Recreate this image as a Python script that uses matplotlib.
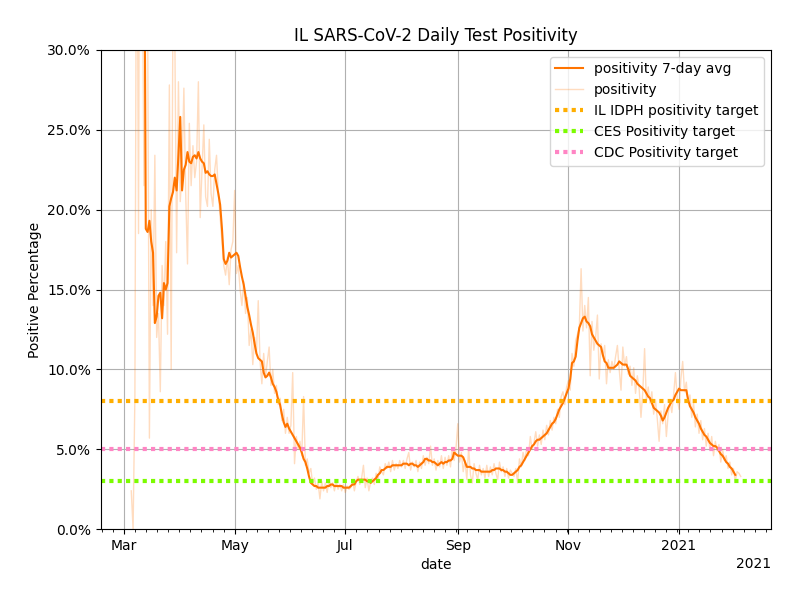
import numpy as np
import pandas as pd
import matplotlib
matplotlib.use("Agg")
import matplotlib.pyplot as plt
import matplotlib.dates as mdates
from matplotlib.ticker import PercentFormatter, AutoMinorLocator

# daily positivity (%), starting 2020-03-05
raw_start = "2020-03-05"
raw_mar = [2.4, 0.0, 8.4, 45.0, 18.5, 60.0, 38.0, 21.5, 40.0, 33.0, 5.7, 20.0, 14.0, 23.4,
           12.0, 13.5, 8.6, 16.5, 14.0, 18.0, 12.2, 27.8, 10.0, 33.0, 31.0, 17.3, 28.0]
raw_apr = [20.5, 22.5, 27.6, 21.0, 16.6, 25.4, 21.5, 24.0, 22.0, 23.0, 28.0, 19.5, 22.5, 25.3,
           20.8, 20.2, 24.4, 21.0, 20.2, 22.5, 23.4, 21.0, 19.5, 18.0, 16.5, 15.9, 17.0, 15.3,
           17.5, 18.0]
raw_may = [21.2, 16.0, 16.5, 15.0, 14.0, 15.5, 13.5, 14.5, 11.5, 12.5, 10.3, 12.0, 11.0, 14.3,
           10.5, 9.1, 11.0, 9.5, 10.5, 11.4, 9.0, 10.0, 8.5, 9.0, 7.8, 8.2, 6.8, 7.5, 6.0, 7.0, 6.0]
raw_jun = [6.5, 9.8, 4.1, 5.8, 5.0, 5.5, 4.6, 8.3, 4.0, 4.4, 3.5, 3.8, 2.8, 3.2, 2.5, 2.9,
           1.9, 3.0, 2.4, 2.9, 2.3, 3.1, 2.6, 2.9, 2.4, 3.0, 2.5, 2.8, 2.4, 2.8]
raw_jul = [2.3, 2.7, 2.5, 2.6, 3.1, 2.4, 3.0, 3.3, 2.8, 3.2, 4.0, 2.6, 3.2, 2.4, 3.0, 3.2,
           2.8, 3.5, 3.1, 3.9, 3.6, 3.4, 4.1, 3.8, 4.2, 3.6, 4.3, 3.7, 4.1, 3.8, 4.3]
raw_aug = [3.9, 4.3, 3.8, 4.4, 4.8, 3.7, 4.2, 3.9, 4.3, 3.6, 4.2, 3.8, 4.6, 4.0, 4.5, 4.1,
           5.2, 4.0, 4.4, 3.7, 4.3, 3.9, 4.6, 3.8, 4.5, 4.0, 4.6, 3.9, 5.1, 4.3, 5.0]
raw_sep = [6.6, 4.2, 4.8, 3.6, 4.3, 3.1, 5.1, 3.4, 2.9, 4.1, 3.5, 3.1, 4.0, 3.4, 3.8, 3.2,
           4.0, 3.3, 3.9, 3.4, 4.1, 3.5, 3.1, 4.2, 3.6, 3.9, 3.3, 3.8, 3.2, 3.7]
raw_oct = [3.5, 3.3, 3.8, 2.9, 4.4, 3.9, 4.8, 4.3, 5.1, 4.6, 5.8, 5.0, 5.4, 6.1, 5.2, 5.9,
           5.3, 6.2, 5.6, 6.5, 5.9, 6.8, 6.2, 7.0, 6.6, 7.5, 7.0, 8.3, 8.6, 7.8, 8.9]
raw_nov = [9.3, 8.7, 11.0, 10.2, 11.8, 12.2, 12.6, 16.3, 12.4, 14.0, 12.6, 14.5, 9.6, 13.0,
           11.2, 12.0, 13.4, 9.4, 11.6, 10.8, 11.5, 9.1, 10.6, 9.8, 10.5, 10.0, 10.8, 11.5,
           10.0, 8.7]
raw_dec = [11.4, 10.2, 10.8, 9.7, 10.2, 9.0, 10.1, 8.5, 9.6, 8.8, 7.0, 8.6, 11.3, 8.0, 8.9,
           7.9, 8.6, 7.2, 8.1, 6.9, 5.5, 7.4, 6.6, 7.8, 5.8, 7.2, 8.0, 7.3, 8.4, 9.8, 8.2]
raw_jan = [7.5, 9.4, 10.5, 8.6, 9.2, 7.9, 8.4, 7.0, 7.9, 6.4, 7.2, 6.0, 6.8, 5.6, 6.3, 5.2,
           6.0, 5.0, 5.8, 4.6, 5.5, 4.9, 5.3, 4.2, 5.0, 4.3, 4.6, 3.8, 4.2, 3.4, 3.8]
raw_feb = [3.0, 3.6, 3.5, 3.3]

# 7-day average (%), starting 2020-03-11
avg_start = "2020-03-11"
avg_mar = [58.0, 44.0, 18.8, 18.6, 19.3, 18.0, 17.3, 12.9, 13.3, 14.6, 14.8, 13.2, 15.4, 15.0,
           15.4, 20.2, 20.7, 21.1, 22.0, 21.2, 23.4]
avg_apr = [25.8, 21.2, 22.5, 22.8, 23.6, 23.0, 22.9, 23.3, 23.4, 23.2, 23.6, 23.2, 23.0, 22.9,
           22.3, 22.4, 22.2, 22.1, 22.1, 22.2, 21.6, 21.0, 20.3, 18.8, 16.9, 16.6, 16.8, 17.3,
           17.0, 17.1]
avg_may = [17.2, 17.3, 17.1, 16.4, 15.8, 15.3, 14.6, 13.9, 13.4, 12.8, 12.3, 11.6, 11.0, 10.7,
           10.6, 10.5, 9.8, 9.5, 9.6, 9.8, 9.5, 9.1, 8.9, 8.6, 8.1, 7.8, 7.2, 6.7, 6.4, 6.6, 6.3]
avg_jun = [6.1, 5.9, 5.7, 5.5, 5.3, 5.1, 4.8, 4.4, 4.2, 3.8, 3.3, 2.9, 2.8, 2.7, 2.7, 2.6,
           2.6, 2.6, 2.6, 2.6, 2.7, 2.7, 2.8, 2.8, 2.7, 2.7, 2.7, 2.7, 2.7, 2.6]
avg_jul = [2.6, 2.6, 2.6, 2.7, 2.8, 2.8, 3.0, 3.1, 3.1, 3.1, 3.1, 3.1, 3.0, 3.0, 2.9, 3.0,
           3.1, 3.2, 3.4, 3.5, 3.7, 3.7, 3.8, 3.9, 3.9, 3.9, 4.0, 4.0, 4.0, 4.0, 4.0]
avg_aug = [4.0, 4.1, 4.1, 4.1, 4.0, 4.1, 4.1, 4.0, 4.0, 3.9, 4.0, 4.1, 4.2, 4.4, 4.4, 4.3,
           4.3, 4.2, 4.2, 4.1, 4.0, 4.1, 4.2, 4.1, 4.2, 4.2, 4.3, 4.3, 4.4, 4.8, 4.7]
avg_sep = [4.6, 4.6, 4.6, 4.5, 4.2, 3.9, 3.9, 3.9, 3.8, 3.8, 3.7, 3.7, 3.7, 3.6, 3.6, 3.6,
           3.6, 3.6, 3.6, 3.7, 3.7, 3.8, 3.8, 3.8, 3.7, 3.7, 3.6, 3.6, 3.5, 3.4]
avg_oct = [3.4, 3.5, 3.6, 3.7, 3.9, 4.0, 4.2, 4.4, 4.6, 4.8, 5.0, 5.2, 5.3, 5.5, 5.6, 5.6,
           5.7, 5.8, 5.9, 6.0, 6.2, 6.4, 6.6, 6.7, 6.9, 7.2, 7.5, 7.7, 7.9, 8.2, 8.5]
avg_nov = [8.8, 9.4, 10.4, 10.5, 10.8, 11.8, 12.6, 12.9, 13.2, 13.3, 13.0, 12.9, 12.7, 12.2,
           12.0, 11.8, 11.6, 11.5, 11.4, 10.9, 10.5, 10.4, 10.1, 10.1, 10.1, 10.1, 10.2, 10.3,
           10.5, 10.4]
avg_dec = [10.3, 10.3, 10.3, 10.0, 9.6, 9.5, 9.4, 9.3, 9.1, 9.0, 8.9, 8.8, 8.7, 8.5, 8.3,
           8.2, 7.9, 7.6, 7.5, 7.4, 7.3, 7.1, 6.8, 7.0, 7.3, 7.6, 7.8, 8.0, 8.1, 8.4, 8.6]
avg_jan = [8.8, 8.7, 8.7, 8.7, 8.7, 8.1, 7.7, 7.5, 7.3, 7.0, 6.8, 6.6, 6.3, 6.1, 5.9, 5.8,
           5.6, 5.4, 5.3, 5.2, 5.2, 5.1, 4.9, 4.7, 4.6, 4.4, 4.2, 4.1, 3.9, 3.8, 3.6]
avg_feb = [3.4]

# positivity targets (%)
idph_target = 8.0
ces_target = 3.0
cdc_target = 5.0

raw = (raw_mar + raw_apr + raw_may + raw_jun + raw_jul + raw_aug + raw_sep + raw_oct
       + raw_nov + raw_dec + raw_jan + raw_feb)
avg = (avg_mar + avg_apr + avg_may + avg_jun + avg_jul + avg_aug + avg_sep + avg_oct
       + avg_nov + avg_dec + avg_jan + avg_feb)
raw_dates = pd.date_range(raw_start, periods=len(raw), freq="D")
avg_dates = pd.date_range(avg_start, periods=len(avg), freq="D")

fig, ax = plt.subplots(figsize=(8, 6), dpi=100)
fig.subplots_adjust(left=0.126, right=0.964, top=0.917, bottom=0.118)

line_color = "#ff7400"
ax.plot(avg_dates, avg, color=line_color, lw=1.5, label="positivity 7-day avg")
ax.plot(raw_dates, raw, color=line_color, lw=1.0, alpha=0.25, label="positivity")
ax.axhline(idph_target, color="#ffae00", lw=3, ls=(0, (1, 1)), label="IL IDPH positivity target")
ax.axhline(ces_target, color="#7cfc00", lw=3, ls=(0, (1, 1)), label="CES Positivity target")
ax.axhline(cdc_target, color="#ff85c4", lw=3, ls=(0, (1, 1)), label="CDC Positivity target")

ax.set_ylim(0, 30)
ax.yaxis.set_major_formatter(PercentFormatter(100, decimals=1))

locator = mdates.MonthLocator(bymonth=[1, 3, 5, 7, 9, 11])
ax.xaxis.set_major_locator(locator)
ax.xaxis.set_major_formatter(mdates.ConciseDateFormatter(locator))
ax.xaxis.set_minor_locator(AutoMinorLocator(10))

# year offset label at the right end of the date axis
ax.text(1.0, -0.058, raw_dates[-1].strftime("%Y"), transform=ax.transAxes,
        ha="right", va="top", fontsize=10)

ax.grid(True)
ax.set_title("IL SARS-CoV-2 Daily Test Positivity")
ax.set_xlabel("date")
ax.set_ylabel("Positive Percentage")
ax.legend(loc="upper right")

fig.savefig("out.png")
